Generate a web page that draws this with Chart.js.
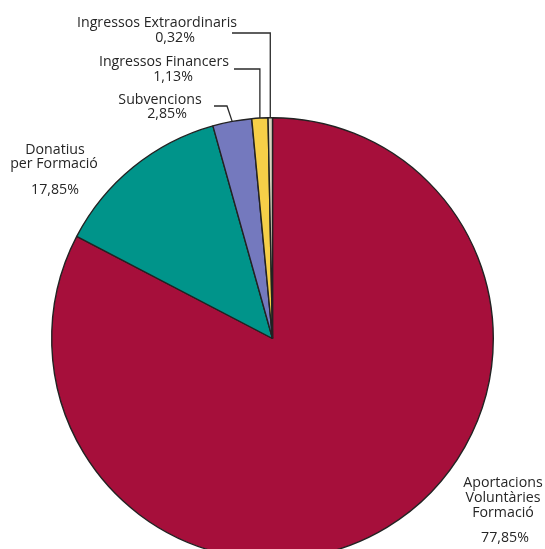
<!DOCTYPE html>
<html>
<head>
<meta charset="utf-8">
<script src="https://cdn.jsdelivr.net/npm/chart.js@4/dist/chart.umd.min.js"></script>
<style>
  html, body { margin: 0; padding: 0; background: #fff; overflow: hidden; }
  #wrap { width: 545px; height: 600px; }
</style>
</head>
<body>
<div id="wrap"><canvas id="grafic" width="545" height="600"></canvas></div>
<script>
// categories as printed on the chart
const categories = ['Aportacions Voluntàries Formació', 'Donatius per Formació', 'Subvencions', 'Ingressos Financers', 'Ingressos Extraordinaris'];
// printed percentages
const percentatges = ['77,85%', '17,85%', '2,85%', '1,13%', '0,32%'];
// slice sizes as drawn in the picture
const valors = [82.65, 13.0, 2.85, 1.18, 0.32];
const colors = ['#A60F3B', '#00948A', '#7479BE', '#F6CF48', '#DAD3C1'];

// label lines: text, centre x, baseline y
const etiquetes = [
    [['Aportacions', 503, 487], ['Voluntàries', 503, 502], ['Formació', 503, 517], [percentatges[0], 505, 542]],
    [['Donatius', 55, 154], ['per Formació', 54, 168], [percentatges[1], 55, 194]],
    [['Subvencions', 160, 104], [percentatges[2], 167, 118]],
    [['Ingressos Financers', 164, 66], [percentatges[3], 173, 81]],
    [['Ingressos Extraordinaris', 157, 27], [percentatges[4], 175, 42]]
];
// leader lines: start x, start y, elbow x (null = straight above the slice)
const guies = [null, null, [214, 106, 227], [234, 69, null], [232, 33, null]];

const pluginEtiquetes = {
    id: 'etiquetes',
    afterDatasetsDraw(chart) {
        const ctx = chart.ctx;
        const arcs = chart.getDatasetMeta(0).data;
        ctx.save();
        ctx.strokeStyle = '#2a2a2a';
        ctx.lineWidth = 1.3;
        guies.forEach((g, i) => {
            if (!g) return;
            const a = arcs[i].getProps(['x', 'y', 'startAngle', 'endAngle', 'outerRadius']);
            const mig = (a.startAngle + a.endAngle) / 2;
            const px = a.x + Math.cos(mig) * a.outerRadius;
            const py = a.y + Math.sin(mig) * a.outerRadius;
            const colze = g[2] === null ? px : g[2];
            ctx.beginPath();
            ctx.moveTo(g[0], g[1]);
            ctx.lineTo(colze, g[1]);
            ctx.lineTo(px, py);
            ctx.stroke();
        });
        ctx.fillStyle = '#262626';
        ctx.font = '14.2px "Open Sans", sans-serif';
        ctx.textAlign = 'center';
        ctx.textBaseline = 'alphabetic';
        etiquetes.forEach(linies => {
            linies.forEach(([t, x, y]) => ctx.fillText(t, x, y));
        });
        ctx.restore();
    }
};

new Chart(document.getElementById('grafic'), {
    type: 'pie',
    data: {
        labels: categories,
        datasets: [{
            data: valors,
            backgroundColor: colors,
            borderColor: '#222',
            borderWidth: 1.4
        }]
    },
    options: {
        responsive: false,
        animation: false,
        events: [],
        layout: { padding: { left: 51, right: 51, top: 117, bottom: 40 } },
        plugins: { legend: { display: false }, tooltip: { enabled: false } }
    },
    plugins: [pluginEtiquetes]
});
</script>
</body>
</html>
